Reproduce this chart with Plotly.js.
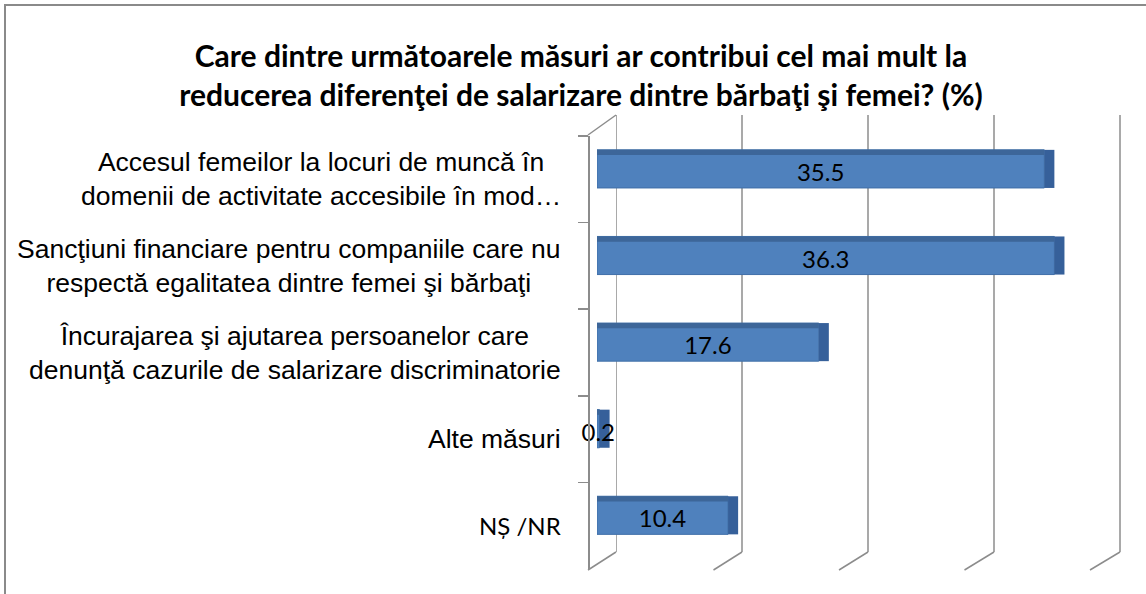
<!DOCTYPE html>
<html>
<head>
<meta charset="utf-8">
<script src="https://cdn.plot.ly/plotly-3.0.1.min.js"></script>
<style>html,body{margin:0;padding:0;background:#fff;}#chart{width:1146px;height:594px;}</style>
</head>
<body>
<div id="chart"></div>
<script>
// ---- data ----
const categories = [
  "Accesul femeilor la locuri de muncă în<br>domenii de activitate accesibile în mod…",
  "Sancţiuni financiare pentru companiile care nu<br>respectă egalitatea dintre femei şi bărbaţi",
  "Încurajarea şi ajutarea persoanelor care<br>denunţă cazurile de salarizare discriminatorie",
  "Alte măsuri",
  "NȘ /NR"
];
const catKeys = ["c1", "c2", "c3", "c4", "c5"];
const values = [35.5, 36.3, 17.6, 0.2, 10.4];
const gridTicks = [0, 10, 20, 30, 40];
const labelFonts = ["Liberation Sans", "Liberation Sans", "Liberation Sans", "Liberation Sans", "Lato"];

// ---- geometry helpers (pixel -> paper) ----
const W = 1146, H = 594;
const px = x => x / W;
const py = y => 1 - y / H;

const barWidth = 0.44, barOffset = -0.34, topStrip = 0.06, capLen = 0.8;
const gridColor = '#8c8c8c';

const traces = [
  // back-wall subplot (scale for the gridlines)
  {type: 'scatter', x: [], y: [], xaxis: 'x', yaxis: 'y', hoverinfo: 'skip', showlegend: false},
  // front face
  {type: 'bar', orientation: 'h', x: values, y: catKeys, xaxis: 'x2', yaxis: 'y2',
   width: barWidth, offset: barOffset,
   marker: {color: '#4F81BD', line: {color: '#3F6FA8', width: 1}},
   hoverinfo: 'skip', showlegend: false},
  // top face
  {type: 'bar', orientation: 'h', x: values, y: catKeys, xaxis: 'x2', yaxis: 'y2',
   width: topStrip, offset: barOffset,
   marker: {color: '#3D6699', line: {width: 0}},
   hoverinfo: 'skip', showlegend: false},
  // side cap
  {type: 'bar', orientation: 'h', base: values, x: values.map(() => capLen), y: catKeys, xaxis: 'x2', yaxis: 'y2',
   width: barWidth, offset: barOffset,
   marker: {color: '#36609A', line: {width: 0}},
   hoverinfo: 'skip', showlegend: false},
  // value labels
  {type: 'bar', orientation: 'h', x: values, y: catKeys, xaxis: 'x2', yaxis: 'y2',
   width: barWidth - topStrip, offset: barOffset + topStrip,
   marker: {color: 'rgba(0,0,0,0)'},
   text: values.map(v => v.toFixed(1)), textposition: 'inside', insidetextanchor: 'middle',
   textangle: 0, constraintext: 'none', cliponaxis: false,
   insidetextfont: {family: 'Lato, Open Sans, sans-serif', size: 24, color: '#000'},
   hoverinfo: 'skip', showlegend: false}
];

// frame, back-wall gridlines, perspective floor lines and wall edge
const shapes = [
  {type: 'rect', xref: 'paper', yref: 'paper', x0: px(5), x1: px(1160), y0: py(5), y1: py(620),
   line: {color: '#8a8a8a', width: 2}, fillcolor: 'rgba(0,0,0,0)', layer: 'below'},
  {type: 'line', xref: 'paper', yref: 'paper', x0: px(588), y0: py(135), x1: px(616), y1: py(115),
   line: {color: gridColor, width: 1.5}, layer: 'below'}
];
gridTicks.forEach(v => {
  shapes.push({type: 'line', xref: 'x', yref: 'paper', x0: v, x1: v, y0: py(552), y1: py(115),
    line: {color: gridColor, width: 1.5}, layer: 'below'});
  shapes.push({type: 'line', xref: 'paper', yref: 'paper',
    x0: px(616 + v * 12.6), y0: py(552), x1: px(588 + v * 12.55), y1: py(570),
    line: {color: gridColor, width: 1.5}, layer: 'below'});
});

// category labels (centered blocks, right edge near the axis)
const annotations = categories.map((c, i) => ({
  xref: 'paper', yref: 'y2', x: px(563), y: catKeys[i], xanchor: 'right', yanchor: 'middle',
  text: c, align: 'center', showarrow: false,
  font: {family: labelFonts[i] + ', Arial, sans-serif', size: i === 4 ? 24 : 26.5, color: '#000'}
}));

const layout = {
  width: W, height: H,
  margin: {l: 0, r: 0, t: 0, b: 0},
  paper_bgcolor: '#fff', plot_bgcolor: 'rgba(0,0,0,0)',
  title: {
    text: 'Care dintre următoarele măsuri ar contribui cel mai mult la<br>reducerea diferenţei de salarizare dintre bărbaţi şi femei? (%)',
    x: px(581), xanchor: 'center', y: py(67), yanchor: 'middle',
    font: {family: 'Lato, sans-serif', size: 30, color: '#000', weight: 'bold'}
  },
  xaxis: {domain: [px(616), px(616 + 41 * 12.6)], range: [0, 41],
    showgrid: false, zeroline: false, showticklabels: false, ticks: '', showline: false,
    anchor: 'y', fixedrange: true},
  yaxis: {domain: [py(552), py(115)], range: [0, 1], visible: false, fixedrange: true},
  xaxis2: {domain: [px(597), px(597 + 40 * 12.6)], range: [0, 40], anchor: 'y2',
    showgrid: false, zeroline: false, showticklabels: false, ticks: '', showline: false, fixedrange: true},
  yaxis2: {domain: [py(569), py(136)], anchor: 'free', position: px(588),
    type: 'category', categoryarray: catKeys, categoryorder: 'array', autorange: 'reversed',
    showline: true, linecolor: gridColor, linewidth: 1.5,
    ticks: 'outside', tickson: 'boundaries', ticklen: 10, tickcolor: gridColor, tickwidth: 1.5,
    showticklabels: false, showgrid: false, zeroline: false, fixedrange: true},
  barmode: 'overlay',
  uniformtext: {minsize: 23, mode: 'show'},
  shapes: shapes,
  annotations: annotations,
  showlegend: false
};

Plotly.newPlot('chart', traces, layout, {displayModeBar: false, staticPlot: true});
</script>
</body>
</html>
